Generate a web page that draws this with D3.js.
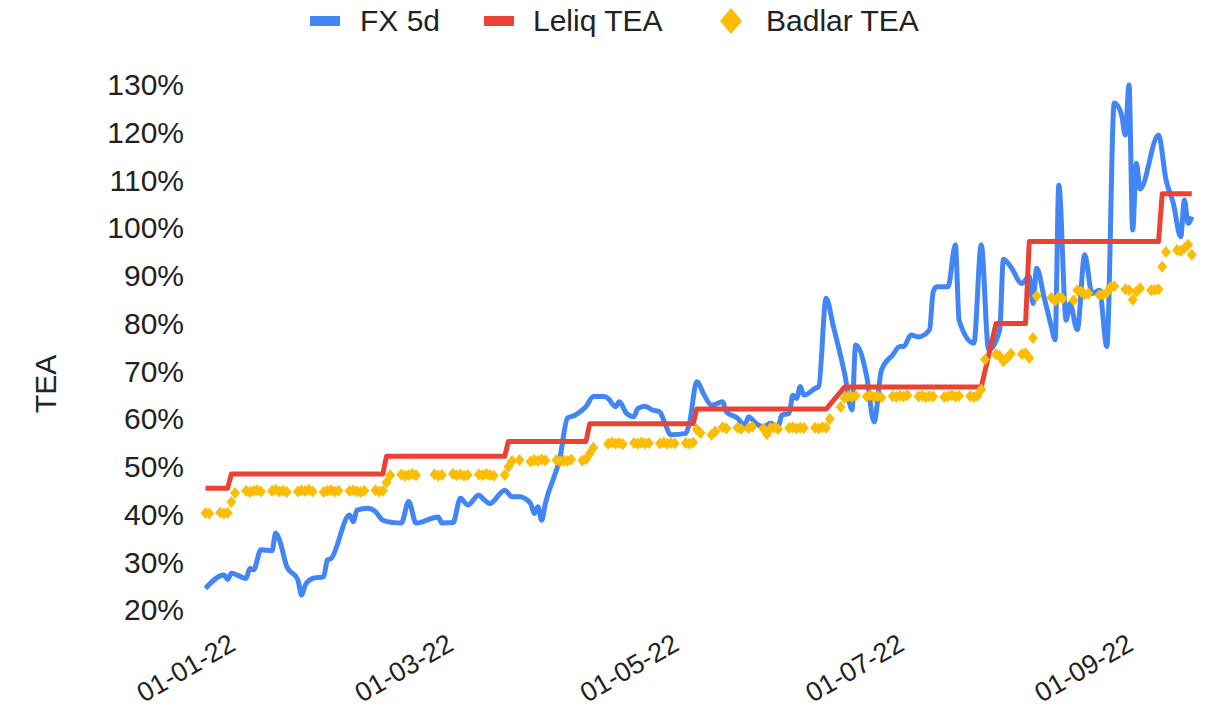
<!DOCTYPE html>
<html>
<head>
<meta charset="utf-8">
<script src="https://cdn.jsdelivr.net/npm/d3@7"></script>
<style>
  body { margin: 0; background: #fff; }
  svg text { font-family: "Liberation Sans", Arial, sans-serif; fill: #222; }
</style>
</head>
<body>
<svg id="chart" width="1222" height="714"></svg>
<script>
// FX 5d (annualised)
var fx5d = [
  ["2021-12-30",24.3],["2022-01-04",27.1],["2022-01-05",26.2],["2022-01-06",27.5],["2022-01-10",26.4],
  ["2022-01-11",28.5],["2022-01-12",28.2],["2022-01-14",32.4],["2022-01-17",32.2],["2022-01-18",35.9],
  ["2022-01-19",34.5],["2022-01-21",28.9],["2022-01-24",26.1],["2022-01-25",22.9],["2022-01-26",25.0],
  ["2022-01-28",26.4],["2022-01-31",26.8],["2022-02-01",30.3],["2022-02-02",30.6],["2022-02-07",39.7],
  ["2022-02-08",38.3],["2022-02-09",40.7],["2022-02-12",41.1],["2022-02-14",40.4],["2022-02-16",38.6],
  ["2022-02-19",38.1],["2022-02-21",38.0],["2022-02-23",42.5],["2022-02-25",38.0],["2022-03-03",39.3],
  ["2022-03-04",38.0],["2022-03-07",38.1],["2022-03-09",43.2],["2022-03-11",41.8],["2022-03-14",43.9],
  ["2022-03-15",43.2],["2022-03-17",42.1],["2022-03-21",44.9],["2022-03-23",43.5],["2022-03-25",43.5],
  ["2022-03-28",42.1],["2022-03-29",40.0],["2022-03-30",41.4],["2022-03-31",38.6],["2022-04-01",42.1],
  ["2022-04-05",51.9],["2022-04-07",60.0],["2022-04-09",60.6],["2022-04-11",61.7],["2022-04-12",62.4],
  ["2022-04-14",64.5],["2022-04-17",64.5],["2022-04-18",64.1],["2022-04-20",62.4],["2022-04-21",63.4],
  ["2022-04-23",61.0],["2022-04-25",60.3],["2022-04-26",62.0],["2022-04-28",62.5],["2022-04-30",61.7],
  ["2022-05-02",61.3],["2022-05-03",59.6],["2022-05-05",56.5],["2022-05-09",56.8],["2022-05-10",58.9],
  ["2022-05-12",67.6],["2022-05-14",64.8],["2022-05-16",62.7],["2022-05-19",63.4],["2022-05-20",61.3],
  ["2022-05-23",60.0],["2022-05-25",58.5],["2022-05-26",60.3],["2022-05-28",58.9],["2022-05-30",58.2],
  ["2022-06-01",58.9],["2022-06-03",58.2],["2022-06-04",60.6],["2022-06-06",61.0],["2022-06-07",64.8],
  ["2022-06-08",64.1],["2022-06-09",66.6],["2022-06-10",64.8],["2022-06-13",66.2],["2022-06-14",66.6],
  ["2022-06-16",85.1],["2022-06-18",79.1],["2022-06-21",69.4],["2022-06-23",61.7],["2022-06-24",75.3],
  ["2022-06-27",68.7],["2022-06-29",59.2],["2022-07-01",70.1],["2022-07-04",73.2],["2022-07-06",75.0],
  ["2022-07-07",75.0],["2022-07-09",77.4],["2022-07-11",77.0],["2022-07-14",78.5],["2022-07-15",86.5],
  ["2022-07-16",87.5],["2022-07-19",87.5],["2022-07-21",96.3],["2022-07-22",80.5],["2022-07-26",75.7],
  ["2022-07-28",96.3],["2022-07-30",74.3],["2022-08-02",78.5],["2022-08-03",93.3],["2022-08-05",91.7],
  ["2022-08-08",88.2],["2022-08-10",89.7],["2022-08-11",84.0],["2022-08-12",91.4],["2022-08-14",85.4],
  ["2022-08-16",79.1],["2022-08-17",76.4],["2022-08-18",108.8],["2022-08-20",80.5],["2022-08-21",84.0],
  ["2022-08-23",78.5],["2022-08-25",94.2],["2022-08-27",86.1],["2022-08-29",86.8],["2022-08-31",75.0],
  ["2022-09-02",126.0],["2022-09-04",123.5],["2022-09-05",119.3],["2022-09-06",129.8],["2022-09-07",99.4],
  ["2022-09-08",113.4],["2022-09-09",108.0],["2022-09-14",119.3],["2022-09-16",110.0],["2022-09-18",105.0],
  ["2022-09-20",98.0],["2022-09-21",105.7],["2022-09-22",100.8],["2022-09-23",102.2]
];

// Leliq TEA, corners of the step line
var leliqTea = [
  ["2021-12-30",45.3],["2022-01-05",45.3],["2022-01-06",48.3],["2022-02-16",48.3],["2022-02-17",52.0],
  ["2022-03-21",52.0],["2022-03-22",55.1],["2022-04-12",55.1],["2022-04-13",58.8],["2022-05-11",58.8],
  ["2022-05-12",61.9],["2022-06-16",61.9],["2022-06-21",66.5],["2022-07-28",66.5],["2022-08-01",79.8],
  ["2022-08-09",79.8],["2022-08-10",97.0],["2022-09-14",97.0],["2022-09-15",107.0],["2022-09-23",107.0]
];

// Badlar TEA, one row per week (Mon..Fri), null = no quote
var badlarWeeks = [
  ["2021-12-27",[null,null,null,40.1,40.0]],
  ["2022-01-03",[40.2,40.0,40.1,42.4,44.3]],
  ["2022-01-10",[44.8,44.5,44.7,44.9,44.6]],
  ["2022-01-17",[44.7,45.0,44.6,44.8,44.5]],
  ["2022-01-24",[44.6,44.9,44.7,45.0,44.6]],
  ["2022-01-31",[44.5,44.8,44.9,44.6,44.8]],
  ["2022-02-07",[44.7,44.9,44.6,44.5,44.8]],
  ["2022-02-14",[44.9,44.6,44.8,46.5,48.0]],
  ["2022-02-21",[48.2,47.9,48.1,48.3,48.0]],
  ["2022-02-28",[null,null,48.2,47.9,48.1]],
  ["2022-03-07",[48.3,48.0,48.2,47.9,48.1]],
  ["2022-03-14",[48.2,48.0,48.3,48.1,47.9]],
  ["2022-03-21",[48.1,49.8,51.0,null,51.2]],
  ["2022-03-28",[50.9,51.2,51.0,51.3,51.1]],
  ["2022-04-04",[51.2,50.9,51.1,51.0,51.3]],
  ["2022-04-11",[51.1,51.4,52.6,53.8,null]],
  ["2022-04-18",[54.6,54.9,54.7,54.8,54.5]],
  ["2022-04-25",[54.8,54.6,54.9,54.7,54.8]],
  ["2022-05-02",[54.7,54.9,54.6,54.8,54.7]],
  ["2022-05-09",[54.8,54.6,54.9,57.6,56.9]],
  ["2022-05-16",[56.5,57.2,null,58.1,57.8]],
  ["2022-05-23",[58.0,57.7,null,57.9,58.2]],
  ["2022-05-30",[57.8,56.6,57.9,58.0,57.7]],
  ["2022-06-06",[57.9,58.1,57.8,58.0,57.9]],
  ["2022-06-13",[58.0,57.8,58.1,58.0,59.8]],
  ["2022-06-20",[62.3,64.2,64.6,64.4,64.7]],
  ["2022-06-27",[64.5,64.8,64.4,64.6,64.3]],
  ["2022-07-04",[64.6,64.4,64.7,64.5,64.8]],
  ["2022-07-11",[64.5,64.7,64.4,64.6,64.5]],
  ["2022-07-18",[64.4,64.6,64.8,64.5,64.7]],
  ["2022-07-25",[64.6,64.4,64.7,66.0,72.3]],
  ["2022-08-01",[73.4,73.0,71.9,72.6,73.5]],
  ["2022-08-08",[73.4,73.6,72.6,76.8,85.6]],
  ["2022-08-15",[null,85.2,84.6,85.4,85.0]],
  ["2022-08-22",[84.7,86.8,86.5,85.9,86.1]],
  ["2022-08-29",[85.8,85.9,86.3,87.4,87.6]],
  ["2022-09-05",[87.0,86.8,84.8,86.5,87.2]],
  ["2022-09-12",[86.8,86.9,87.0,91.7,94.8]],
  ["2022-09-19",[95.2,95.0,95.6,96.3,94.2]]
];

var xTickDates = ["2022-01-01","2022-03-01","2022-05-01","2022-07-01","2022-09-01"];
var yTicks = [20,30,40,50,60,70,80,90,100,110,120,130];
var seriesNames = ["FX 5d","Leliq TEA","Badlar TEA"];
var seriesColors = ["#4285f4","#ea4335","#fbbc04"];

var parse = d3.timeParse("%Y-%m-%d");
var fmt = d3.timeFormat("%d-%m-%y");

var svg = d3.select("#chart");

var x = d3.scaleTime()
    .domain([parse("2021-12-30"), parse("2022-09-23")])
    .range([205.5, 1191.8]);
var y = d3.scaleLinear().domain([20, 130]).range([609, 84]);

// y axis, labels only
var yAxis = svg.append("g")
    .attr("transform", "translate(184,0)")
    .call(d3.axisLeft(y).tickValues(yTicks).tickFormat(function (d) { return d + "%"; }).tickSize(0).tickPadding(0));
yAxis.select(".domain").remove();
yAxis.selectAll("text")
    .attr("dy", "0.36em")
    .style("font-size", "30px")
    .style("font-family", "'Liberation Sans', Arial, sans-serif")
    .attr("fill", "#222");

svg.append("text")
    .attr("transform", "translate(56,384) rotate(-90)")
    .attr("text-anchor", "middle")
    .style("font-size", "30px")
    .text("TEA");

// x axis, slanted labels
var xAxis = svg.append("g")
    .call(d3.axisBottom(x).tickValues(xTickDates.map(parse)).tickFormat(fmt).tickSize(0));
xAxis.select(".domain").remove();
xAxis.selectAll("text")
    .attr("x", 0).attr("y", 0).attr("dy", 0)
    .attr("text-anchor", "end")
    .attr("transform", "translate(24,649) rotate(-30)")
    .style("font-size", "27px")
    .style("font-family", "'Liberation Sans', Arial, sans-serif")
    .attr("fill", "#222");

var line = d3.line()
    .x(function (d) { return x(parse(d[0])); })
    .y(function (d) { return y(d[1]); });

svg.append("path")
    .datum(fx5d)
    .attr("d", line.curve(d3.curveMonotoneX))
    .attr("fill", "none")
    .attr("stroke", seriesColors[0])
    .attr("stroke-width", 5)
    .attr("stroke-linejoin", "round");

svg.append("path")
    .datum(leliqTea)
    .attr("d", line.curve(d3.curveLinear))
    .attr("fill", "none")
    .attr("stroke", seriesColors[1])
    .attr("stroke-width", 5)
    .attr("stroke-linejoin", "round");

// badlar: diamonds only
var badlarPoints = [];
badlarWeeks.forEach(function (w) {
    var start = parse(w[0]);
    w[1].forEach(function (v, i) {
        if (v !== null) {
            badlarPoints.push({ date: d3.timeDay.offset(start, i), value: v });
        }
    });
});

var diamond = function (hw, hh) {
    return "M0," + (-hh) + "L" + hw + ",0L0," + hh + "L" + (-hw) + ",0Z";
};

svg.append("g")
    .selectAll("path")
    .data(badlarPoints)
    .enter().append("path")
    .attr("d", diamond(5, 6))
    .attr("transform", function (d) { return "translate(" + x(d.date) + "," + y(d.value) + ")"; })
    .attr("fill", seriesColors[2]);

// legend
var legendX = [310, 484, 731];
var legendTextX = [360, 533, 766];
var legend = svg.append("g");
seriesNames.forEach(function (name, i) {
    if (i < 2) {
        legend.append("rect")
            .attr("x", legendX[i]).attr("y", 16)
            .attr("width", 30).attr("height", 10)
            .attr("fill", seriesColors[i]);
    } else {
        legend.append("path")
            .attr("d", diamond(11, 13))
            .attr("transform", "translate(" + legendX[i] + ",21)")
            .attr("fill", seriesColors[i]);
    }
    legend.append("text")
        .attr("x", legendTextX[i]).attr("y", 31)
        .style("font-size", "30px")
        .text(name);
});
</script>
</body>
</html>
